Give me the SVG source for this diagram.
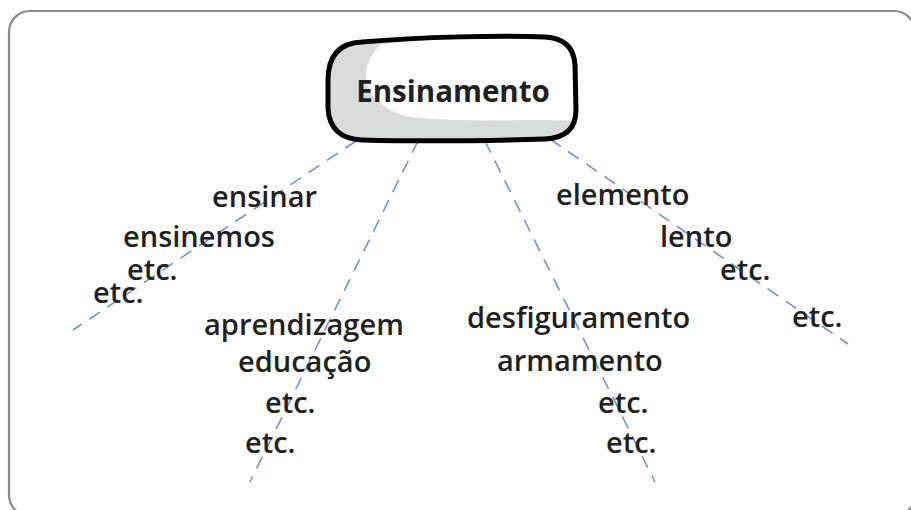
<svg xmlns="http://www.w3.org/2000/svg" width="911" height="510" viewBox="0 0 911 510">
<style>
.lbl{font-family:"Open Sans","Noto Sans",sans-serif;font-weight:600;font-size:29px;fill:#231f20}
.title{font-family:"Open Sans","Noto Sans",sans-serif;font-weight:700;font-size:29.5px;fill:#231f20}
.con{stroke:#7094cc;stroke-width:1.6;stroke-dasharray:13 9;fill:none}
</style>
<rect x="0" y="0" width="911" height="510" fill="#ffffff"/>
<rect id="frame" x="9" y="11" width="906" height="505" rx="21" fill="none" stroke="#8a8a8e" stroke-width="2.2"/>
<g id="connectors">
<line class="con" x1="356" y1="141" x2="73" y2="330"/>
<line class="con" x1="418" y1="141" x2="250" y2="482"/>
<line class="con" x1="485" y1="141" x2="655" y2="482"/>
<line class="con" x1="550" y1="139" x2="848" y2="344"/>
</g>
<g id="node-ensinamento">
<path d="M362,42 C420,37 500,35 545,37 C565,38 574,48 575,65 L576,110 C576,128 566,138 545,139 C480,141 400,141 362,140 C340,139 329,128 328,108 L328,80 C328,55 340,43 362,42 Z" fill="#d9dada"/>
<path d="M382,44 C362,60 352,98 405,116 C455,124 530,118 573,121 L574,62 C572,46 562,40 545,39 C490,38 420,39 382,44 Z" fill="#ffffff"/>
<path d="M362,42 C420,37 500,35 545,37 C565,38 574,48 575,65 L576,110 C576,128 566,138 545,139 C480,141 400,141 362,140 C340,139 329,128 328,108 L328,80 C328,55 340,43 362,42 Z" fill="none" stroke="#000000" stroke-width="5"/>
<text class="title" x="453" y="102" text-anchor="middle">Ensinamento</text>
</g>
<g id="branch-1">
<text class="lbl" x="212" y="207">ensinar</text>
<text class="lbl" x="123" y="247">ensinemos</text>
<text class="lbl" x="127" y="280">etc.</text>
<text class="lbl" x="93" y="303">etc.</text>
</g>
<g id="branch-2">
<text class="lbl" x="204" y="335">aprendizagem</text>
<text class="lbl" x="238" y="372">educação</text>
<text class="lbl" x="265" y="413">etc.</text>
<text class="lbl" x="245" y="453">etc.</text>
</g>
<g id="branch-3">
<text class="lbl" x="467" y="328">desfiguramento</text>
<text class="lbl" x="497" y="371">armamento</text>
<text class="lbl" x="598" y="413">etc.</text>
<text class="lbl" x="606" y="453">etc.</text>
</g>
<g id="branch-4">
<text class="lbl" x="556" y="205">elemento</text>
<text class="lbl" x="660" y="247">lento</text>
<text class="lbl" x="720" y="280">etc.</text>
<text class="lbl" x="792" y="327">etc.</text>
</g>
</svg>
